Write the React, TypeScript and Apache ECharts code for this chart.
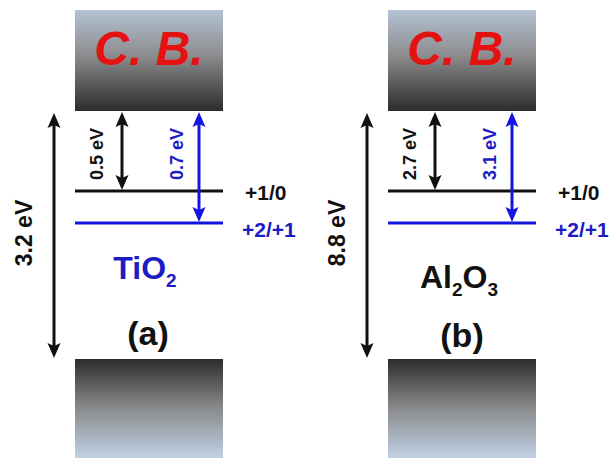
import React, { useEffect, useRef } from "react";
import * as echarts from "echarts";

// ---- data (texts of the schematic) ----
const materials = ["TiO2", "Al2O3"];
const materialRich = ["{n|TiO}{s|2}", "{n|Al}{s|2}{n|O}{s|3}"];
const materialColors = ["#1c1cc4", "#111111"];
const panelTags = ["(a)", "(b)"];
const bandGaps = ["3.2 eV", "8.8 eV"];
const level1Depth = ["0.5 eV", "2.7 eV"]; // +1/0 below CB
const level2Depth = ["0.7 eV", "3.1 eV"]; // +2/+1 below CB
const levelNames = ["+1/0", "+2/+1"];
const cbLabel = "C. B.";

// ---- layout constants ----
const FONT = "'Liberation Sans', Arial, Helvetica, sans-serif";
const PANEL_DX = [0, 313];
const BOX_X = 75;
const BOX_W = 148;
const CB_Y = 10;
const CB_H = 101;
const VB_Y = 359;
const VB_H = 100;
const L1_Y = 191;
const L2_Y = 223;
const BIG_X = 54;
const BLK_X = 122;
const BLU_X = 199;
const BLACK = "#111111";
const BLUE_LINE = "#1414e0";
const BLUE_TEXT = "#1c1cc4";
const RED = "#e51212";

function arrow(x: number, y1: number, y2: number, color: string, both = true) {
  const w = 13;
  const L = 15;
  const notch = 3;
  const els: any[] = [];
  els.push({
    type: "line",
    shape: { x1: x, y1: y1 + L - notch, x2: x, y2: y2 - L + notch },
    style: { stroke: color, lineWidth: 3 },
  });
  els.push({
    type: "polygon",
    shape: {
      points: [
        [x, y1],
        [x - w / 2, y1 + L],
        [x, y1 + L - notch],
        [x + w / 2, y1 + L],
      ],
    },
    style: { fill: color },
  });
  if (both) {
    els.push({
      type: "polygon",
      shape: {
        points: [
          [x, y2],
          [x - w / 2, y2 - L],
          [x, y2 - L + notch],
          [x + w / 2, y2 - L],
        ],
      },
      style: { fill: color },
    });
  }
  return els;
}

function vText(x: number, y: number, text: string, color: string, size: number) {
  return {
    type: "text",
    x,
    y,
    rotation: Math.PI / 2,
    style: {
      text,
      fill: color,
      font: `bold ${size}px ${FONT}`,
      align: "center",
      verticalAlign: "middle",
    },
  };
}

function buildPanel(i: number) {
  const dx = PANEL_DX[i];
  const els: any[] = [];
  // conduction band
  els.push({
    type: "rect",
    shape: { x: BOX_X + dx, y: CB_Y, width: BOX_W, height: CB_H },
    style: {
      fill: new echarts.graphic.LinearGradient(0, 0, 0, 1, [
        { offset: 0, color: "#b4c2d4" },
        { offset: 0.45, color: "#8c8c8e" },
        { offset: 1, color: "#2c2c2c" },
      ]),
    },
  });
  els.push({
    type: "text",
    x: BOX_X + dx + BOX_W / 2,
    y: CB_Y + 38,
    style: {
      text: cbLabel,
      fill: RED,
      font: `italic bold 48px ${FONT}`,
      align: "center",
      verticalAlign: "middle",
    },
  });
  // valence band
  els.push({
    type: "rect",
    shape: { x: BOX_X + dx, y: VB_Y, width: BOX_W, height: VB_H },
    style: {
      fill: new echarts.graphic.LinearGradient(0, 0, 0, 1, [
        { offset: 0, color: "#2c2c2c" },
        { offset: 0.5, color: "#8a8c8e" },
        { offset: 1, color: "#c2d2e6" },
      ]),
    },
  });
  // level lines
  els.push({
    type: "line",
    shape: { x1: BOX_X + dx, y1: L1_Y, x2: BOX_X + dx + BOX_W, y2: L1_Y },
    style: { stroke: BLACK, lineWidth: 3 },
  });
  els.push({
    type: "line",
    shape: { x1: BOX_X + dx, y1: L2_Y, x2: BOX_X + dx + BOX_W, y2: L2_Y },
    style: { stroke: BLUE_LINE, lineWidth: 3 },
  });
  // arrows
  els.push(...arrow(BIG_X + dx, 113, 358, BLACK));
  els.push(...arrow(BLK_X + dx, 112, L1_Y - 1, BLACK));
  els.push(...arrow(BLU_X + dx, 112, L2_Y - 1, BLUE_LINE));
  // vertical labels
  els.push(vText(24 + dx, 233, bandGaps[i], BLACK, 23));
  els.push(vText(97 + dx, 154, level1Depth[i], BLACK, 18));
  els.push(vText(177 + dx, 154, level2Depth[i], BLUE_TEXT, 18));
  // level names
  els.push({
    type: "text",
    x: 245 + dx,
    y: L1_Y + 1,
    style: {
      text: levelNames[0],
      fill: BLACK,
      font: `bold 21px ${FONT}`,
      align: "left",
      verticalAlign: "middle",
    },
  });
  els.push({
    type: "text",
    x: 242 + dx,
    y: L2_Y + 6,
    style: {
      text: levelNames[1],
      fill: BLUE_TEXT,
      font: `bold 21px ${FONT}`,
      align: "left",
      verticalAlign: "middle",
    },
  });
  // material name
  const mc = materialColors[i];
  els.push({
    type: "text",
    x: i === 0 ? 145 : 459,
    y: i === 0 ? 270 : 279,
    style: {
      text: materialRich[i],
      align: "center",
      verticalAlign: "middle",
      rich: {
        n: {
          fontSize: 32,
          fontWeight: "bold",
          fontFamily: FONT,
          fill: mc,
          color: mc,
          lineHeight: 36,
          verticalAlign: "top",
        },
        s: {
          fontSize: 19,
          fontWeight: "bold",
          fontFamily: FONT,
          fill: mc,
          color: mc,
          lineHeight: 19,
          padding: [19, 0, 0, 0],
          verticalAlign: "top",
        },
      },
    },
  });
  // panel tag
  els.push({
    type: "text",
    x: i === 0 ? 148 : 462,
    y: i === 0 ? 333 : 335,
    style: {
      text: panelTags[i],
      fill: BLACK,
      font: `bold 34px ${FONT}`,
      align: "center",
      verticalAlign: "middle",
    },
  });
  return els;
}

export default function App() {
  const ref = useRef<HTMLDivElement>(null);
  useEffect(() => {
    if (!ref.current) return;
    const chart = echarts.init(ref.current, undefined, { renderer: "svg" });
    const elements: any[] = [];
    materials.forEach((_, i) => elements.push(...buildPanel(i)));
    chart.setOption({
      animation: false,
      backgroundColor: "#ffffff",
      graphic: { elements },
    });
    return () => chart.dispose();
  }, []);
  return (
    <div
      ref={ref}
      style={{ width: 612, height: 458, position: "absolute", left: 0, top: 0 }}
    />
  );
}
